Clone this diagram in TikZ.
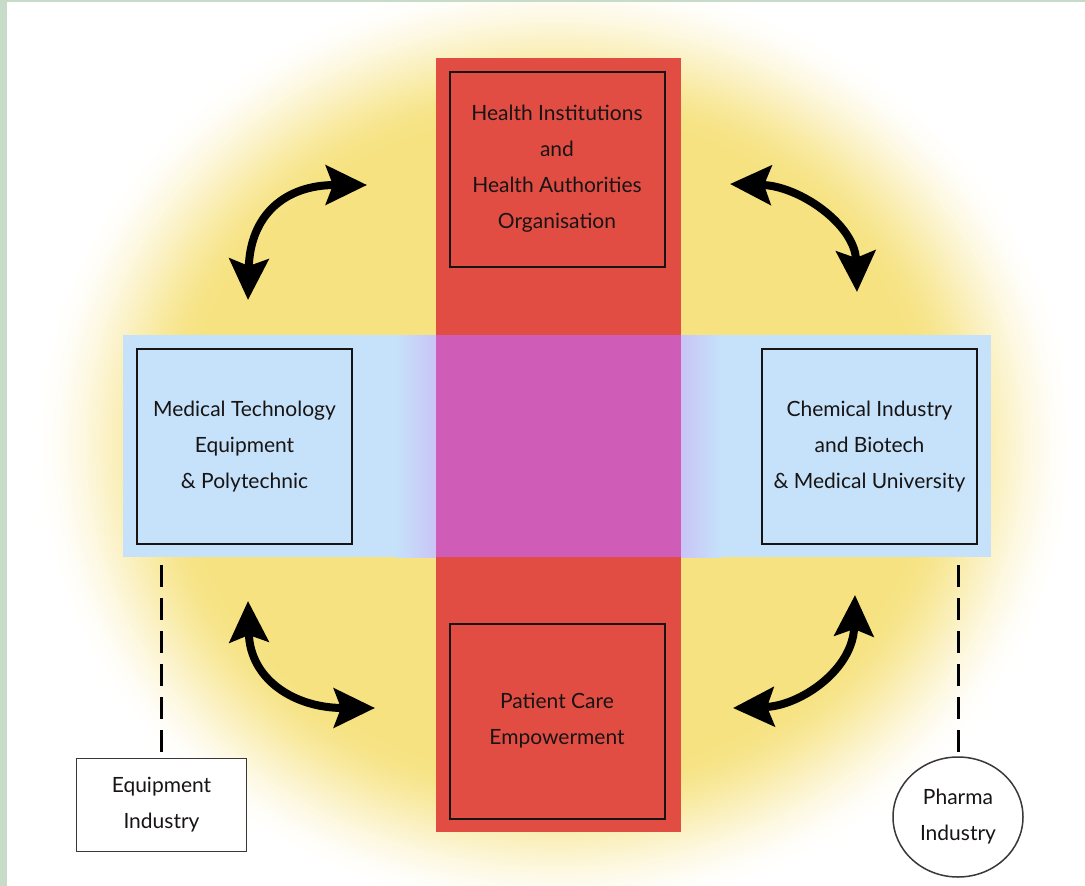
\documentclass[tikz,border=0pt]{standalone}
\usepackage{fontspec}
\setmainfont{Lato}
\usetikzlibrary{arrows.meta,shapes.geometric}

\definecolor{bandred}{RGB}{226,77,67}
\definecolor{bandblue}{RGB}{197,226,250}
\definecolor{overlap}{RGB}{207,92,182}
\definecolor{lilac}{RGB}{202,196,246}
\definecolor{glowyellow}{RGB}{246,226,128}
\definecolor{framegreen}{RGB}{200,218,200}
\definecolor{ink}{RGB}{24,20,20}

\begin{document}
\begin{tikzpicture}[x=1pt,y=-1pt,
  box/.style={draw=ink, line width=2pt, inner sep=0pt, align=center,
    minimum width=215pt, minimum height=195pt,
    font=\fontsize{21}{36}\selectfont, text=ink},
  small/.style={draw=ink!85, line width=1.5pt, inner sep=0pt, fill=white,
    align=center, font=\fontsize{21}{36}\selectfont, text=ink},
  swap/.style={line width=8pt, draw=black,
    {Stealth[length=41pt,width=39pt,inset=7pt]}-{Stealth[length=41pt,width=39pt,inset=7pt]}},
  tie/.style={line width=3pt, draw=black, dash pattern=on 22pt off 11pt},
]
\useasboundingbox (0,0) rectangle (1085,886);
\fill[white] (0,0) rectangle (1085,886);

% soft yellow halo: concentric ellipses from the pale rim to the warm core
\foreach \i in {0,...,48}{
  \pgfmathsetmacro{\t}{\i/48}
  \pgfmathsetmacro{\rx}{525-\t*160}
  \pgfmathsetmacro{\ry}{475-\t*150}
  \pgfmathsetmacro{\mix}{100*(3*\t*\t-2*\t*\t*\t)}
  \fill[glowyellow!\mix!white] (555,445) ellipse [x radius=\rx, y radius=\ry];
}

% horizontal blue band with a lilac fringe next to the red band
\fill[bandblue] (123,335) rectangle (991,557);
\shade[left color=bandblue, right color=lilac] (396,335) rectangle (436,557);
\shade[left color=lilac, right color=bandblue] (681,335) rectangle (721,557);

% vertical red band and the overlap
\fill[bandred] (436,58) rectangle (681,832);
\fill[overlap] (436,335) rectangle (681,557);

% thin frame on the left and top
\fill[framegreen] (0,0) rectangle (7,886);
\fill[framegreen] (0,0) rectangle (1085,2);

% main boxes
\node[box, fill=bandred] (health) at (557,169)
  {Health Institutions\\and\\Health Authorities\\Organisation};
\node[box, fill=bandred] (patient) at (557,721)
  {Patient Care\\Empowerment};
\node[box, fill=bandblue] (medtech) at (244.5,446.5)
  {Medical Technology\\Equipment\\\& Polytechnic};
\node[box, fill=bandblue] (chem) at (869.5,446.5)
  {Chemical Industry\\and Biotech\\\& Medical University};

% industry nodes
\node[small, minimum width=170pt, minimum height=93pt] (equip) at (161.5,805)
  {Equipment\\Industry};
\node[small, ellipse, minimum width=130pt, minimum height=120pt] (pharma) at (958,817)
  {Pharma\\Industry};

% dashed ties from the blue band
\coordinate (equiptop) at (161.5,565);
\coordinate (pharmatop) at (958,565);
\draw[tie] (equiptop) -- (equip.north);
\draw[tie] (pharmatop) -- (pharma.north);

% curved double arrows
\coordinate (tlA) at (248,300);
\coordinate (tlB) at (367,185);
\coordinate (trA) at (730,184);
\coordinate (trB) at (857,292);
\coordinate (blA) at (248,601);
\coordinate (blB) at (375,708);
\coordinate (brA) at (733,708);
\coordinate (brB) at (855,595);

\draw[swap] (tlA) .. controls (250,215) and (285,185) .. (tlB);
\draw[swap] (trA) .. controls (800,186) and (855,225) .. (trB);
\draw[swap] (blA) .. controls (250,680) and (295,708) .. (blB);
\draw[swap] (brA) .. controls (800,706) and (853,670) .. (brB);
\end{tikzpicture}
\end{document}
